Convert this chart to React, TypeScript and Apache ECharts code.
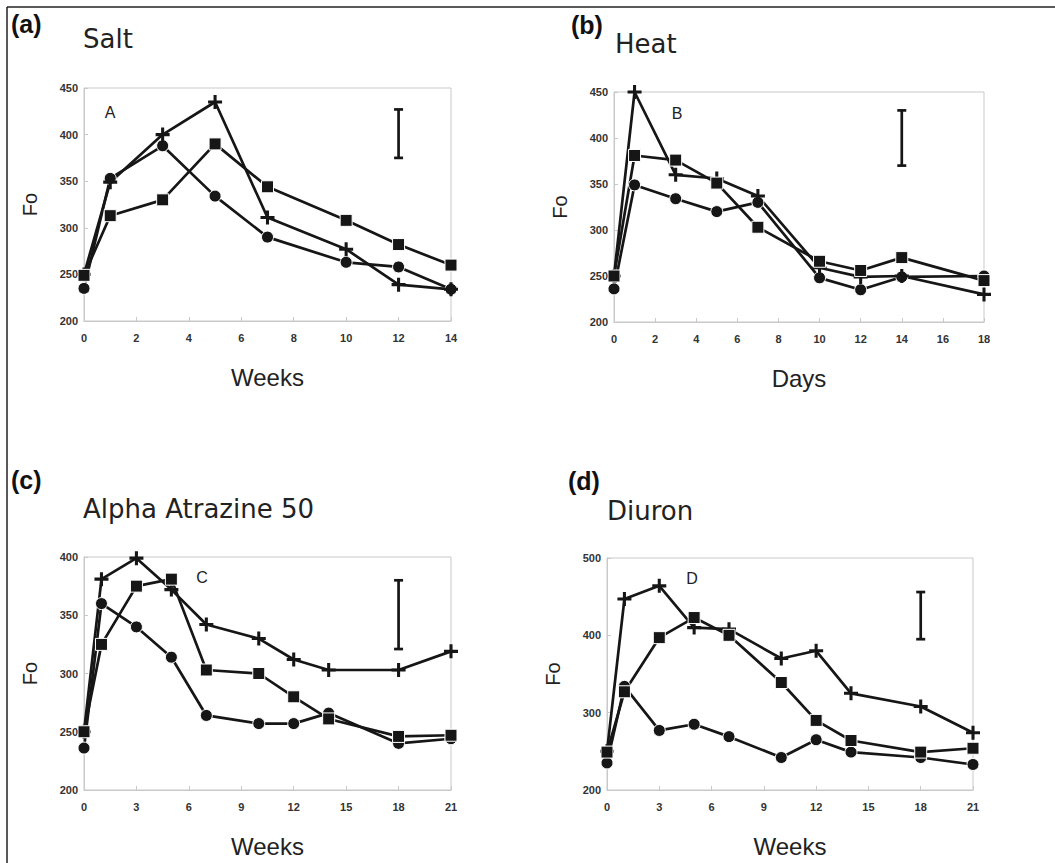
import React, { useEffect, useRef } from "react";
import * as echarts from "echarts";

// ---- data ----
const weeksA = [0, 1, 3, 5, 7, 10, 12, 14];
const squareA = [249, 313, 330, 390, 344, 308, 282, 260];
const circleA = [235, 353, 388, 334, 290, 263, 258, 234];
const crossA = [250, 349, 400, 435, 311, 277, 239, 234];
const errA = [12, 375, 427];

const daysB = [0, 1, 3, 5, 7, 10, 12, 14, 18];
const squareB = [250, 381, 376, 351, 303, 266, 256, 270, 245];
const circleB = [236, 349, 334, 320, 330, 248, 235, 249, 250];
const crossB = [250, 450, 360, 356, 337, 259, 249, 250, 230];
const errB = [14, 370, 430];

const weeksC = [0, 1, 3, 5, 7, 10, 12, 14, 18, 21];
const squareC = [250, 325, 375, 381, 303, 300, 280, 261, 246, 247];
const circleC = [236, 360, 340, 314, 264, 257, 257, 266, 240, 244];
const crossC = [250, 381, 399, 372, 342, 330, 312, 303, 303, 319];
const errC = [18, 321, 380];

const weeksD = [0, 1, 3, 5, 7, 10, 12, 14, 18, 21];
const squareD = [249, 327, 397, 423, 400, 339, 290, 264, 249, 254];
const circleD = [235, 334, 277, 285, 269, 242, 265, 249, 242, 233];
const crossD = [250, 447, 464, 410, 408, 370, 380, 325, 308, 274];
const errD = [18, 395, 456];

const panelTitles = ["Salt", "Heat", "Alpha Atrazine 50", "Diuron"];
const panelTags = ["(a)", "(b)", "(c)", "(d)"];
const panelLetters = ["A", "B", "C", "D"];
const xNames = ["Weeks", "Days", "Weeks", "Weeks"];
const yMins = [200, 200, 200, 200];
const yMaxs = [450, 450, 400, 500];
const yIntervals = [50, 50, 50, 100];
const xMaxs = [14, 18, 21, 21];
const xIntervals = [2, 2, 3, 3];

const panels = [
  { x: weeksA, sq: squareA, ci: circleA, cr: crossA, err: errA },
  { x: daysB, sq: squareB, ci: circleB, cr: crossB, err: errB },
  { x: weeksC, sq: squareC, ci: circleC, cr: crossC, err: errC },
  { x: weeksD, sq: squareD, ci: circleD, cr: crossD, err: errD },
];

// ---- layout ----
const grids = [
  { left: 84, top: 88, width: 367, height: 233 },
  { left: 614, top: 92, width: 370, height: 230 },
  { left: 84, top: 557, width: 367, height: 233 },
  { left: 607, top: 558, width: 366, height: 232 },
];
const titlePos = [
  [83, 39],
  [615, 44],
  [83, 509],
  [607, 511],
];
const tagPos = [
  [11, 24],
  [571, 25],
  [11, 480],
  [568, 481],
];
const letterPos = [
  [110, 112],
  [677, 113],
  [202, 577],
  [692, 578],
];

const PLUS = "path://M3.9,0H6.1V3.9H10V6.1H6.1V10H3.9V6.1H0V3.9H3.9Z";
const INK = "#161616";
const FRAME = "#c9c9c9";

export default function App() {
  const ref = useRef<HTMLDivElement>(null);
  useEffect(() => {
    if (!ref.current) return;
    const chart = echarts.init(ref.current, null, { renderer: "svg" });

    const xAxis: any[] = [];
    const yAxis: any[] = [];
    const series: any[] = [];
    const graphic: any[] = [
      { type: "line", shape: { x1: 7, y1: 7, x2: 1055, y2: 7 }, style: { stroke: "#222", lineWidth: 1.5 } },
      { type: "line", shape: { x1: 7, y1: 7, x2: 7, y2: 863 }, style: { stroke: "#222", lineWidth: 1.5 } },
    ];

    panels.forEach((p, i) => {
      xAxis.push({
        type: "value",
        gridIndex: i,
        min: 0,
        max: xMaxs[i],
        interval: xIntervals[i],
        name: xNames[i],
        nameLocation: "middle",
        nameGap: 44,
        nameTextStyle: { fontSize: 24, fontFamily: "Liberation Sans", color: "#222" },
        axisLine: { show: true, lineStyle: { color: FRAME, width: 1 } },
        axisTick: { show: true, inside: true, length: 4, lineStyle: { color: FRAME } },
        axisLabel: { fontSize: 11, fontWeight: "bold", fontFamily: "Liberation Sans", color: "#333", margin: 11 },
        splitLine: { show: false },
      });
      yAxis.push({
        type: "value",
        gridIndex: i,
        min: yMins[i],
        max: yMaxs[i],
        interval: yIntervals[i],
        name: "Fo",
        nameLocation: "middle",
        nameGap: 44,
        nameTextStyle: { fontSize: 20, fontFamily: "Liberation Sans", color: "#222" },
        axisLine: { show: true, lineStyle: { color: FRAME, width: 1 } },
        axisTick: { show: true, inside: true, length: 4, lineStyle: { color: FRAME } },
        axisLabel: { fontSize: 11, fontWeight: "bold", fontFamily: "Liberation Sans", color: "#333", margin: 6 },
        splitLine: { show: false },
      });
      const mk = (vals: number[]) => p.x.map((x, k) => [x, vals[k]]);
      const base = {
        type: "line",
        xAxisIndex: i,
        yAxisIndex: i,
        lineStyle: { color: INK, width: 2.7 },
        showSymbol: true,
        emphasis: { disabled: true },
      };
      series.push({
        ...base,
        name: "circle" + i,
        data: mk(p.ci),
        symbol: "circle",
        symbolSize: 12,
        itemStyle: { color: INK, borderColor: "#fff", borderWidth: 1 },
      });
      series.push({
        ...base,
        name: "cross" + i,
        data: mk(p.cr),
        symbol: PLUS,
        symbolSize: 14,
        itemStyle: { color: INK, borderWidth: 0 },
      });
      series.push({
        ...base,
        name: "square" + i,
        data: mk(p.sq),
        symbol: "rect",
        symbolSize: 12,
        itemStyle: { color: INK, borderColor: "#fff", borderWidth: 1 },
      });
      series.push({
        type: "custom",
        xAxisIndex: i,
        yAxisIndex: i,
        data: [p.err],
        encode: { x: 0, y: [1, 2] },
        renderItem: (params: any, api: any) => {
          const xv = api.value(0);
          const lo = api.coord([xv, api.value(1)]);
          const hi = api.coord([xv, api.value(2)]);
          const st = { stroke: INK, lineWidth: 2.7 };
          return {
            type: "group",
            children: [
              { type: "line", shape: { x1: lo[0], y1: lo[1], x2: hi[0], y2: hi[1] }, style: st },
              { type: "line", shape: { x1: lo[0] - 4.5, y1: lo[1], x2: lo[0] + 4.5, y2: lo[1] }, style: st },
              { type: "line", shape: { x1: hi[0] - 4.5, y1: hi[1], x2: hi[0] + 4.5, y2: hi[1] }, style: st },
            ],
          };
        },
      });

      graphic.push({
        type: "text",
        x: titlePos[i][0],
        y: titlePos[i][1],
        style: { text: panelTitles[i], fontSize: 26, fontFamily: "DejaVu Sans", fill: "#222", verticalAlign: "middle", align: "left" },
      });
      graphic.push({
        type: "text",
        x: tagPos[i][0],
        y: tagPos[i][1],
        style: { text: panelTags[i], fontSize: 25, fontWeight: "bold", fontFamily: "Liberation Sans", fill: "#111", verticalAlign: "middle", align: "left" },
      });
      graphic.push({
        type: "text",
        x: letterPos[i][0],
        y: letterPos[i][1],
        style: { text: panelLetters[i], fontSize: 16, fontFamily: "Liberation Sans", fill: "#222", verticalAlign: "middle", align: "center" },
      });
    });

    chart.setOption({
      animation: false,
      backgroundColor: "#fff",
      grid: grids.map((g) => ({ ...g, show: true, borderColor: FRAME, borderWidth: 1, backgroundColor: "transparent" })),
      xAxis,
      yAxis,
      series,
      graphic,
    });
    return () => chart.dispose();
  }, []);

  return (
    <div
      ref={ref}
      style={{ position: "absolute", left: 0, top: 0, width: 1055, height: 863, background: "#fff" }}
    />
  );
}
